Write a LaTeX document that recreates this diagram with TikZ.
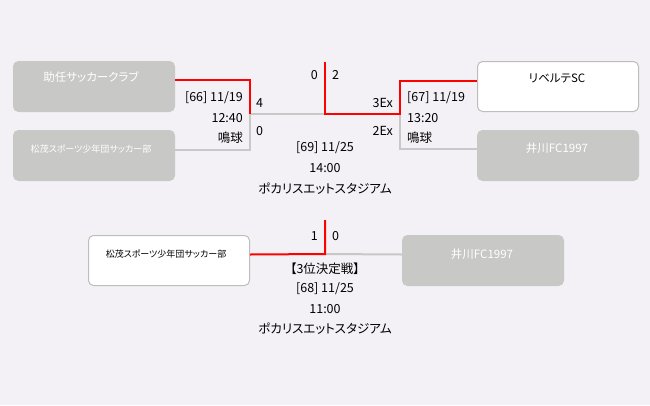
\documentclass[tikz,border=0pt]{standalone}
\usepackage{fontspec}
\setmainfont{Noto Sans CJK JP}[RawFeature=+palt]
\definecolor{bg}{HTML}{F3F1F5}
\definecolor{boxgray}{HTML}{C8C9C6}
\definecolor{linegray}{HTML}{C8C8C8}
\definecolor{bordergray}{HTML}{BDBDBD}
\begin{document}
\begin{tikzpicture}[x=1pt,y=-1pt,
  box/.style={rounded corners=5pt, minimum width=161pt, minimum height=50pt, inner sep=0pt, anchor=north west, line width=1pt},
  gbox/.style={box, fill=boxgray, draw=boxgray},
  wbox/.style={box, fill=white, draw=bordergray},
  win/.style={draw=red, line width=2pt},
  lose/.style={draw=linegray, line width=2pt},
  lbl/.style={font=\fontsize{12.5}{14}\selectfont, inner sep=0pt, text=black},
  tlbl/.style={font=\fontsize{11.5}{13}\selectfont, inner sep=0pt},
  slbl/.style={font=\fontsize{9}{11}\selectfont, inner sep=0pt}
]
\fill[bg] (0,0) rectangle (650,405);
\useasboundingbox (0,0) rectangle (650,405);

% boxes
\node[gbox] (b1) at (13,61) {};
\node[gbox] (b2) at (13,130) {};
\node[wbox] (b3) at (477,61) {};
\node[gbox] (b4) at (477,130) {};
\node[wbox] (b5) at (88,235) {};
\node[gbox] (b6) at (402,235) {};

\node[tlbl, text=white] (t1) at (91,77) {助任サッカークラブ};
\node[slbl, text=white] (t2) at (91,149) {松茂スポーツ少年団サッカー部};
\node[tlbl, text=black] (t3) at (557,78) {リベルテSC};
\node[tlbl, text=white] (t4) at (557,148) {井川FC1997};
\node[slbl, text=black] (t5) at (166,254) {松茂スポーツ少年団サッカー部};
\node[tlbl, text=white] (t6) at (482,254) {井川FC1997};

% junctions
\coordinate (j66) at (250,114);
\coordinate (j67) at (400,114);
\coordinate (c69) at (325,114);
\coordinate (top69) at (325,62);
\coordinate (c68) at (325,254);
\coordinate (top68) at (325,220);

% connectors
\draw[lose] ([yshift=6pt]b2.east) -| (j66) -- (c69);
\draw[win] ([yshift=7pt]b1.east) -| (j66);
\draw[lose] ([yshift=7pt]b4.west) -| (j67);
\draw[win] (top69) -- (c69) -- (j67) |- ([yshift=6pt]b3.west);
\draw[lose] (c68) -- ([yshift=6pt]b6.west);
\draw[win] ([yshift=6pt]b5.east) -- (c68) -- (top68);

% match 66
\node[lbl, anchor=east] (m66a) at (243,98) {[66] 11/19};
\node[lbl, anchor=east] (m66b) at (243,118) {12:40};
\node[lbl, anchor=east] (m66c) at (243,138) {鳴球};
\node[lbl, anchor=west] (s66a) at (256,103) {4};
\node[lbl, anchor=west] (s66b) at (256,131) {0};

% match 67
\node[lbl, anchor=west] (m67a) at (407,98) {[67] 11/19};
\node[lbl, anchor=west] (m67b) at (407,118) {13:20};
\node[lbl, anchor=west] (m67c) at (407,138) {鳴球};
\node[lbl, anchor=east] (s67a) at (393,103) {3Ex};
\node[lbl, anchor=east] (s67b) at (393,131) {2Ex};

% match 69
\node[lbl, anchor=east] (s69a) at (318,75) {0};
\node[lbl, anchor=west] (s69b) at (332,75) {2};
\node[lbl] (m69a) at (325,148) {[69] 11/25};
\node[lbl] (m69b) at (325,168) {14:00};
\node[lbl] (m69c) at (325,189) {ポカリスエットスタジアム};

% match 68
\node[lbl, anchor=east] (s68a) at (318,236) {1};
\node[lbl, anchor=west] (s68b) at (332,236) {0};
\node[lbl] (m68t) at (325,269) {【3位決定戦】};
\node[lbl] (m68a) at (325,289) {[68] 11/25};
\node[lbl] (m68b) at (325,309) {11:00};
\node[lbl] (m68c) at (325,329) {ポカリスエットスタジアム};
\end{tikzpicture}
\end{document}
